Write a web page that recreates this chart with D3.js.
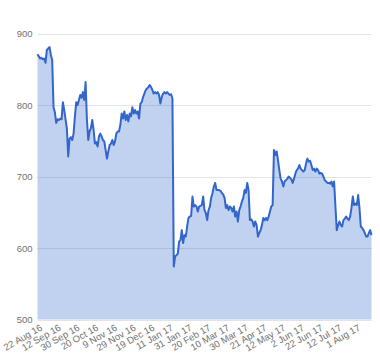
<!DOCTYPE html>
<html>
<head>
  <script src="https://d3js.org/d3.v7.min.js"></script>
  <style>
      body { margin: 0; background: #fff; }
      #chart { width: 380px; height: 360px; }
      .axis text {
        font-family: Arial, "Liberation Sans", sans-serif;
        font-size: 9.5px;
        fill: #707070;
      }
  </style>
</head>
<body>
  <div id="chart"></div>
  <script>
    /*
    DATA: one closing value per trading day, 22 Aug 16 to mid Aug 17
    */
    const tickLabels = ["22 Aug 16", "12 Sep 16", "30 Sep 16", "20 Oct 16", "9 Nov 16", "29 Nov 16",
      "19 Dec 16", "11 Jan 17", "31 Jan 17", "20 Feb 17", "10 Mar 17", "30 Mar 17",
      "21 Apr 17", "12 May 17", "2 Jun 17", "22 Jun 17", "12 Jul 17", "1 Aug 17"];
    const tickStep = 14;

    const yTicks = [500, 600, 700, 800, 900];

    const values = [
      871, 868, 865, 866, 864, 865, 859, 877, 879, 881, 870, 863, 797, 790, 775, 780, 779, 781, 780, 804,
      793, 780, 767, 728, 753, 755, 751, 760, 784, 804, 800, 807, 814, 810, 818, 807, 832, 779, 751, 763,
      768, 779, 765, 746, 748, 742, 756, 760, 756,
      751, 749, 737, 725, 735, 744, 746, 751, 744, 749, 760, 763, 763, 772, 788, 781, 791, 779, 786, 777,
      788, 784, 797, 788, 793, 788, 791, 781, 802, 804, 811, 816, 821, 823, 825, 828, 825, 821, 816, 818,
      816, 818, 814, 802, 811, 816, 818, 816, 818, 816, 814, 815, 809,
      574, 588, 590, 592, 609, 611, 625, 607, 618, 616, 630, 642, 644, 645, 672, 658, 660, 658, 651, 658,
      659, 660, 672, 653, 649, 639, 653, 658, 670, 677, 686, 691, 681, 681, 681, 680, 677, 675, 670, 656,
      660, 653, 658, 656, 651, 658, 644, 651, 637, 653,
      658, 665, 670, 681, 677, 691, 681, 639, 640, 637, 630, 637, 632, 616, 621, 625, 632, 642, 639, 642,
      639, 644, 651, 658, 660, 737, 730, 735, 723, 709, 697, 693, 686, 693, 695, 697, 700, 698, 696, 691,
      697, 704, 709, 711, 716, 711, 709, 707, 709, 718,
      725, 721, 722, 716, 709, 711, 707, 711, 709, 704, 705, 704, 700, 695, 693, 691, 691, 690, 693, 686,
      693, 658, 625, 632, 637, 632, 630, 639, 641, 644, 641, 639, 644, 656, 672, 660, 662, 660, 674, 656,
      630, 628, 625, 621, 616, 616, 621, 625, 618
    ];

    /*
    SVG CANVAS
    */
    const width = 380;
    const height = 360;
    const margin = {top: 33.5, left: 37.5, right: 8.5, bottom: 40.5};
    const svg = d3.select("#chart")
      .append("svg")
      .attr("width", width)
      .attr("height", height);

    /*
    SCALES
    */
    const xScale = d3.scaleLinear()
      .domain([0, values.length - 1])
      .range([margin.left, width - margin.right]);

    const yScale = d3.scaleLinear()
      .domain([500, 900])
      .range([height - margin.bottom, margin.top]);

    /*
    GRIDLINES
    */
    svg.append("g")
      .selectAll("line")
      .data(yTicks)
      .enter()
      .append("line")
        .attr("x1", margin.left)
        .attr("x2", width - margin.right)
        .attr("y1", d => Math.round(yScale(d)) + 0.5)
        .attr("y2", d => Math.round(yScale(d)) + 0.5)
        .attr("stroke", "#e3e3e3");

    /*
    AREA AND LINE
    */
    const area = d3.area()
      .x((d, i) => xScale(i))
      .y0(yScale(500))
      .y1(d => yScale(d));

    const line = d3.line()
      .x((d, i) => xScale(i))
      .y(d => yScale(d));

    svg.append("path")
      .datum(values)
      .attr("d", area)
      .attr("fill", "#3366cc")
      .attr("fill-opacity", 0.3);

    svg.append("path")
      .datum(values)
      .attr("d", line)
      .attr("fill", "none")
      .attr("stroke", "#3366cc")
      .attr("stroke-width", 2)
      .attr("stroke-linejoin", "round");

    /*
    AXES
    */
    const yAxis = svg.append("g")
      .attr("class", "axis")
      .attr("transform", `translate(${margin.left - 5},0)`)
      .call(d3.axisLeft(yScale).tickValues(yTicks).tickSize(0).tickPadding(0));
    yAxis.select(".domain").remove();

    const xAxis = svg.append("g")
      .attr("class", "axis")
      .attr("transform", `translate(0, ${height - margin.bottom})`)
      .call(d3.axisBottom(xScale)
        .tickValues(tickLabels.map((d, i) => i * tickStep))
        .tickFormat((d, i) => tickLabels[i])
        .tickSize(0));
    xAxis.select(".domain").remove();
    xAxis.selectAll("text")
      .attr("text-anchor", "end")
      .attr("dy", null)
      .attr("y", null)
      .attr("transform", "translate(5,10) rotate(-30)");

  </script>
</body>
</html>
